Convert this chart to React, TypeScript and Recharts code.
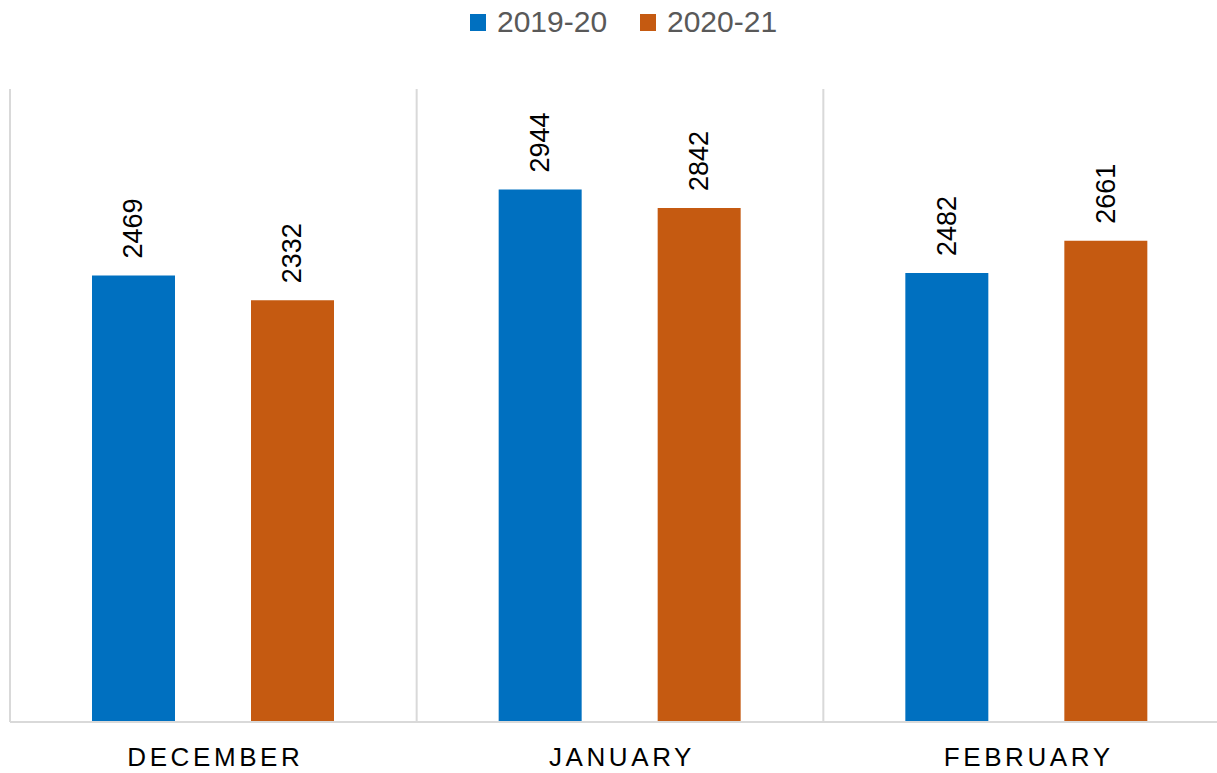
import React from "react";
import { BarChart, Bar, XAxis, YAxis, CartesianGrid, LabelList } from "recharts";

const categories = ["DECEMBER", "JANUARY", "FEBRUARY"];
const series2019 = [2469, 2944, 2482];
const series2020 = [2332, 2842, 2661];
const seriesNames = ["2019-20", "2020-21"];
const seriesColors = ["#0070C0", "#C55A11"];

const data = categories.map((c, i) => ({ name: c, a: series2019[i], b: series2020[i] }));

const FONT = "'Liberation Sans', Arial, sans-serif";

const RotLabel = (props: any) => {
  const { x, y, width, value } = props;
  const cx = x + width / 2;
  const ty = y - 17;
  return (
    <text
      x={cx}
      y={ty}
      transform={`rotate(-90, ${cx}, ${ty})`}
      textAnchor="start"
      dominantBaseline="central"
      fontSize={27}
      fontFamily={FONT}
      fill="#000"
    >
      {value}
    </text>
  );
};

const CatTick = (props: any) => {
  const { x, y, payload } = props;
  return (
    <text x={x + 2} y={y + 44} textAnchor="middle" fontSize={26} fontFamily={FONT} fill="#000" letterSpacing={3.6}>
      {payload.value}
    </text>
  );
};

const gridGen = (props: any) => {
  const off = props.offset;
  const n = categories.length;
  const xs: number[] = [];
  for (let i = 0; i <= n; i++) xs.push(off.left + (i * off.width) / n);
  return xs;
};

export default function App() {
  return (
    <div style={{ position: "absolute", left: 0, top: 0, width: 1217, height: 773, overflow: "hidden", background: "#fff" }}>
      <div style={{ position: "absolute", left: 0, top: 0, width: 1217, height: 50, fontFamily: FONT }}>
        {seriesNames.map((n, i) => (
          <div key={n} style={{ position: "absolute", left: i === 0 ? 470 : 640, top: 0, height: 44, display: "flex", alignItems: "center" }}>
            <div style={{ width: 16, height: 17, background: seriesColors[i], marginRight: 11 }} />
            <span style={{ fontSize: 30, color: "#595959", lineHeight: "44px" }}>{n}</span>
          </div>
        ))}
      </div>
      <BarChart
        width={1240}
        height={773}
        data={data}
        margin={{ top: 89, right: 10, left: 10, bottom: 0 }}
        barSize={83}
        barGap={76}
      >
        <CartesianGrid
          horizontal={false}
          vertical={true}
          stroke="#d9d9d9"
          strokeWidth={2}
          verticalCoordinatesGenerator={gridGen}
        />
        <XAxis
          dataKey="name"
          height={51}
          tickLine={false}
          tickSize={0}
          tickMargin={0}
          axisLine={{ stroke: "#d9d9d9", strokeWidth: 2 }}
          tick={<CatTick />}
          interval={0}
        />
        <YAxis hide domain={[0, 3500]} />
        <Bar dataKey="a" name={seriesNames[0]} fill={seriesColors[0]} isAnimationActive={false}>
          <LabelList dataKey="a" content={<RotLabel />} />
        </Bar>
        <Bar dataKey="b" name={seriesNames[1]} fill={seriesColors[1]} isAnimationActive={false}>
          <LabelList dataKey="b" content={<RotLabel />} />
        </Bar>
      </BarChart>
    </div>
  );
}
